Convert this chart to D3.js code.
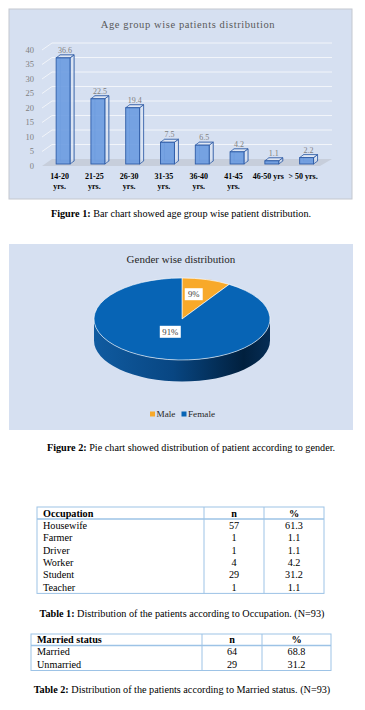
<!DOCTYPE html>
<html>
<head>
<meta charset="utf-8">
<script src="https://cdn.jsdelivr.net/npm/d3@7"></script>
<style>
  body { margin: 0; background: #fff; }
  svg { display: block; }
  text { font-family: "Liberation Serif", "Times New Roman", serif; }
</style>
</head>
<body>
<div id="chart"></div>
<script>
// ---- data ----
const ageGroups = ["14-20 yrs.", "21-25 yrs.", "26-30 yrs.", "31-35 yrs.", "36-40 yrs.", "41-45 yrs.", "46-50 yrs", "> 50 yrs."];
const ageLabelLines = [["14-20", "yrs."], ["21-25", "yrs."], ["26-30", "yrs."], ["31-35", "yrs."], ["36-40", "yrs."], ["41-45", "yrs."], ["46-50 yrs"], ["> 50 yrs."]];
const ageValues = [36.6, 22.5, 19.4, 7.5, 6.5, 4.2, 1.1, 2.2];
const yTicks = [0, 5, 10, 15, 20, 25, 30, 35, 40];

const genders = ["Male", "Female"];
const genderValues = [9, 91];

const occupations = ["Housewife", "Farmer", "Driver", "Worker", "Student", "Teacher"];
const occN = ["57", "1", "1", "4", "29", "1"];
const occPct = ["61.3", "1.1", "1.1", "4.2", "31.2", "1.1"];

const marital = ["Married", "Unmarried"];
const marN = ["64", "29"];
const marPct = ["68.8", "31.2"];

const width = 365, height = 710;
const bodySize = '10.2px';

const svg = d3.create('svg')
  .attr('width', width)
  .attr('height', height);

svg.append('rect').attr('width', width).attr('height', height).attr('fill', '#fff');

// ================= Figure 1: 3D bar chart =================
svg.append('rect')
  .attr('x', 9).attr('y', 9).attr('width', 343).attr('height', 190)
  .attr('fill', '#d6e0f1').attr('stroke', '#c4c8cf');

svg.append('text')
  .attr('x', 188).attr('y', 28)
  .attr('text-anchor', 'middle')
  .attr('font-size', '10.5px')
  .attr('letter-spacing', '0.6px')
  .attr('fill', '#595959')
  .text('Age group wise patients distribution');

const xScale = d3.scaleBand()
  .domain(ageGroups)
  .range([45.7, 324])
  .paddingInner(0.6)
  .paddingOuter(0.3);

const yScale = d3.scaleLinear()
  .domain([0, 40])
  .range([164, 48]);

// floor
svg.append('path')
  .attr('d', `M42,${yScale(0) + 2} L320,${yScale(0) + 2} L332,${yScale(0) - 5} L52,${yScale(0) - 5} Z`)
  .attr('fill', '#c7cedb');

// gridlines (back wall, slanted on the left)
svg.append('g')
  .selectAll('path')
  .data(yTicks.filter(t => t > 0))
  .join('path')
  .attr('d', t => `M42,${yScale(t) + 2} L52,${yScale(t) - 5} H332`)
  .attr('fill', 'none')
  .attr('stroke', '#f2f5fa')
  .attr('stroke-width', 1);

// y labels
svg.append('g')
  .selectAll('text')
  .data(yTicks)
  .join('text')
  .attr('x', 34)
  .attr('y', t => yScale(t) + 2)
  .attr('dy', '0.35em')
  .attr('text-anchor', 'end')
  .attr('font-size', '8.5px')
  .attr('fill', '#7f7f7f')
  .text(t => t);

// bars
const dx = 4, dy = -3;
const bw = xScale.bandwidth();
const bars = svg.append('g')
  .selectAll('g')
  .data(ageGroups.map((g, i) => ({ g, v: ageValues[i] })))
  .join('g');

// back edges (seen through the box)
bars.append('rect')
  .attr('x', d => xScale(d.g) + dx)
  .attr('y', d => yScale(d.v) + dy)
  .attr('width', bw)
  .attr('height', d => yScale(0) - yScale(d.v))
  .attr('fill', 'none')
  .attr('stroke', '#3a64a8')
  .attr('stroke-width', 0.7)
  .attr('opacity', 0.6);

// right side face
bars.append('path')
  .attr('d', d => {
    const x0 = xScale(d.g) + bw, t = yScale(d.v), b = yScale(0);
    return `M${x0},${t} L${x0 + dx},${t + dy} L${x0 + dx},${b + dy} L${x0},${b} Z`;
  })
  .attr('fill', '#dce4f2')
  .attr('fill-opacity', 0.7)
  .attr('stroke', '#2f5ca6')
  .attr('stroke-width', 0.8);

// top face
bars.append('path')
  .attr('d', d => {
    const x0 = xScale(d.g), t = yScale(d.v);
    return `M${x0},${t} L${x0 + dx},${t + dy} L${x0 + bw + dx},${t + dy} L${x0 + bw},${t} Z`;
  })
  .attr('fill', '#e4eaf5')
  .attr('fill-opacity', 0.8)
  .attr('stroke', '#2f5ca6')
  .attr('stroke-width', 0.8);

// front face
bars.append('rect')
  .attr('x', d => xScale(d.g))
  .attr('y', d => yScale(d.v))
  .attr('width', bw)
  .attr('height', d => yScale(0) - yScale(d.v))
  .attr('fill', '#6a9be0')
  .attr('fill-opacity', 0.9)
  .attr('stroke', '#2f5ca6')
  .attr('stroke-width', 0.9);

// value labels
bars.append('text')
  .attr('x', d => xScale(d.g) + bw / 2 + dx / 2)
  .attr('y', d => yScale(d.v) - 5)
  .attr('text-anchor', 'middle')
  .attr('font-size', '8px')
  .attr('fill', '#7f7f7f')
  .text(d => d.v);

// x labels
const xl = svg.append('g')
  .selectAll('text')
  .data(ageGroups.map((g, i) => ({ g, lines: ageLabelLines[i] })))
  .join('text')
  .attr('y', 178.5)
  .attr('text-anchor', 'middle')
  .attr('font-size', '8px')
  .attr('font-weight', 'bold')
  .attr('fill', '#000');
xl.selectAll('tspan')
  .data(d => d.lines.map(l => ({ l, x: xScale(d.g) + bw / 2 - 3.5 })))
  .join('tspan')
  .attr('x', d => d.x)
  .attr('dy', (d, i) => i === 0 ? 0 : 10)
  .text(d => d.l);

// caption 1
const cap1 = svg.append('text')
  .attr('x', 181).attr('y', 217)
  .attr('text-anchor', 'middle')
  .attr('font-size', bodySize)
  .attr('fill', '#000');
cap1.append('tspan').attr('font-weight', 'bold').text('Figure 1: ');
cap1.append('tspan').text(' Bar chart showed age group wise patient distribution.');

// ================= Figure 2: 3D pie =================
svg.append('rect')
  .attr('x', 9).attr('y', 244).attr('width', 344).attr('height', 186)
  .attr('fill', '#d6e0f1');

svg.append('text')
  .attr('x', 181).attr('y', 263)
  .attr('text-anchor', 'middle')
  .attr('font-size', '11px')
  .attr('fill', '#262626')
  .text('Gender wise distribution');

const genderColor = d3.scaleOrdinal().domain(genders).range(['#f8a92a', '#0764b5']);
const cx = 182, cy = 319, rx = 88, ry = 41, depth = 21.5;

const defs = svg.append('defs');
const grad = defs.append('linearGradient').attr('id', 'pieSide')
  .attr('x1', '0%').attr('x2', '100%').attr('y1', '0%').attr('y2', '0%');
grad.append('stop').attr('offset', '0%').attr('stop-color', '#105ba0');
grad.append('stop').attr('offset', '45%').attr('stop-color', '#084682');
grad.append('stop').attr('offset', '85%').attr('stop-color', '#01203e');
grad.append('stop').attr('offset', '100%').attr('stop-color', '#062d55');

svg.append('path')
  .attr('transform', `translate(${cx},${cy})`)
  .attr('d', `M${-rx},0 A${rx},${ry} 0 0 0 ${rx},0 L${rx},${depth} A${rx},${ry} 0 0 1 ${-rx},${depth} Z`)
  .attr('fill', 'url(#pieSide)');

const pieData = d3.pie().sort(null).value(d => d.v)(genders.map((g, i) => ({ g, v: genderValues[i] })));
const arc = d3.arc().innerRadius(0).outerRadius(rx);
const labelArc = d3.arc().innerRadius(0).outerRadius(84);

svg.append('g')
  .attr('transform', `translate(${cx},${cy}) scale(1,${ry / rx})`)
  .selectAll('path')
  .data(pieData)
  .join('path')
  .attr('d', arc)
  .attr('fill', d => genderColor(d.data.g))
  .attr('stroke', '#ffffff')
  .attr('stroke-width', 0.6)
  .attr('vector-effect', 'non-scaling-stroke');

const pl = svg.append('g')
  .selectAll('g')
  .data(pieData)
  .join('g')
  .attr('transform', d => {
    const c = labelArc.centroid(d);
    return `translate(${cx + c[0]},${cy - 6 + c[1] * ry / rx})`;
  });
pl.append('rect')
  .attr('x', d => d.data.v < 10 ? -9 : -10.5)
  .attr('y', -6)
  .attr('width', d => d.data.v < 10 ? 18 : 21)
  .attr('height', 12)
  .attr('fill', '#fff');
pl.append('text')
  .attr('text-anchor', 'middle')
  .attr('dy', '0.35em')
  .attr('font-size', '8.7px')
  .attr('fill', '#404040')
  .text(d => d.data.v + '%');

// legend
const legend = svg.append('g').attr('transform', 'translate(0,414)');
const legX = [150, 181.5];
const lg = legend.selectAll('g')
  .data(genders)
  .join('g')
  .attr('transform', (d, i) => `translate(${legX[i]},0)`);
lg.append('rect')
  .attr('x', 0).attr('y', -2.5).attr('width', 5).attr('height', 5)
  .attr('fill', d => genderColor(d));
lg.append('text')
  .attr('x', 6.5).attr('dy', '0.35em')
  .attr('font-size', '9.2px')
  .attr('fill', '#262626')
  .text(d => d);

// caption 2
const cap2 = svg.append('text')
  .attr('x', 191).attr('y', 451)
  .attr('text-anchor', 'middle')
  .attr('font-size', bodySize)
  .attr('fill', '#000');
cap2.append('tspan').attr('font-weight', 'bold').text('Figure 2:');
cap2.append('tspan').text(' Pie chart showed distribution of patient according to gender.');

// ================= Tables =================
function drawTable(o) {
  const g = svg.append('g');
  const rows = o.labels.length;
  const bottom = o.y0 + o.headH + rows * o.rowH;
  const stroke = '#9dc3e6';
  g.append('rect')
    .attr('x', o.cols[0]).attr('y', o.y0)
    .attr('width', o.cols[3] - o.cols[0]).attr('height', bottom - o.y0)
    .attr('fill', 'none').attr('stroke', stroke).attr('stroke-width', 1);
  g.append('line')
    .attr('x1', o.cols[0]).attr('x2', o.cols[3])
    .attr('y1', o.y0 + o.headH).attr('y2', o.y0 + o.headH)
    .attr('stroke', stroke).attr('stroke-width', 1.3);
  [o.cols[1], o.cols[2]].forEach(cx => {
    g.append('line')
      .attr('x1', cx).attr('x2', cx).attr('y1', o.y0).attr('y2', bottom)
      .attr('stroke', stroke).attr('stroke-width', 1);
  });
  const c1 = (o.cols[1] + o.cols[2]) / 2, c2 = (o.cols[2] + o.cols[3]) / 2;
  const head = [[o.head[0], o.cols[0] + 6, 'start'], [o.head[1], c1, 'middle'], [o.head[2], c2, 'middle']];
  g.append('g').selectAll('text').data(head).join('text')
    .attr('x', d => d[1]).attr('y', o.y0 + o.headH / 2 + 3.5)
    .attr('text-anchor', d => d[2])
    .attr('font-size', bodySize).attr('font-weight', 'bold').attr('fill', '#000')
    .text(d => d[0]);
  const body = g.append('g').selectAll('g')
    .data(o.labels.map((l, i) => ({ l, n: o.n[i], p: o.p[i], i })))
    .join('g')
    .attr('transform', d => `translate(0,${o.y0 + o.headH + o.rowH * d.i + o.rowH / 2 + 3.5})`);
  body.append('text').attr('x', o.cols[0] + 6).attr('font-size', bodySize).attr('fill', '#000').text(d => d.l);
  body.append('text').attr('x', c1).attr('text-anchor', 'middle').attr('font-size', bodySize).attr('fill', '#000').text(d => d.n);
  body.append('text').attr('x', c2).attr('text-anchor', 'middle').attr('font-size', bodySize).attr('fill', '#000').text(d => d.p);
}

drawTable({ cols: [37, 204, 264, 324], y0: 507, headH: 12, rowH: 12.4,
  head: ['Occupation', 'n', '%'], labels: occupations, n: occN, p: occPct });

const cap3 = svg.append('text')
  .attr('x', 182).attr('y', 617)
  .attr('text-anchor', 'middle')
  .attr('font-size', bodySize)
  .attr('fill', '#000');
cap3.append('tspan').attr('font-weight', 'bold').text('Table 1:');
cap3.append('tspan').text(' Distribution of the patients according to Occupation. (N=93)');

drawTable({ cols: [31, 202, 262, 331], y0: 634, headH: 11.5, rowH: 12.5,
  head: ['Married status', 'n', '%'], labels: marital, n: marN, p: marPct });

const cap4 = svg.append('text')
  .attr('x', 182).attr('y', 693)
  .attr('text-anchor', 'middle')
  .attr('font-size', bodySize)
  .attr('fill', '#000');
cap4.append('tspan').attr('font-weight', 'bold').text('Table 2:');
cap4.append('tspan').text(' Distribution of the patients according to Married status. (N=93)');

document.getElementById('chart').appendChild(svg.node());
</script>
</body>
</html>
